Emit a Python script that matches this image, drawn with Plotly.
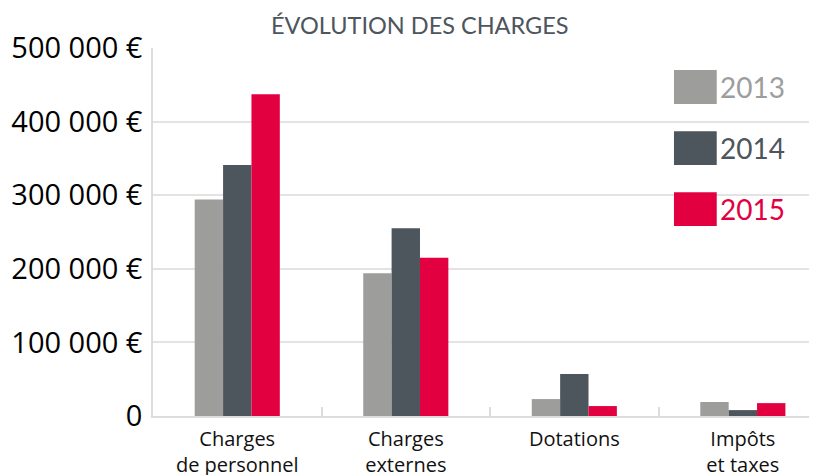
import plotly.graph_objects as go

categories = ["Charges<br>de personnel", "Charges<br>externes", "Dotations", "Impôts<br>et taxes"]
years = ["2013", "2014", "2015"]
colors = ["#9d9d9c", "#4d555d", "#e30040"]
values_2013 = [294000, 194000, 23000, 19000]
values_2014 = [341000, 255000, 57000, 8000]
values_2015 = [437000, 215000, 13500, 17500]
series = [values_2013, values_2014, values_2015]
y_ticks = [0, 100000, 200000, 300000, 400000, 500000]
y_ticktext = ["0", "100 000 €", "200 000 €", "300 000 €", "400 000 €", "500 000 €"]

fig = go.Figure()
for name, vals, col in zip(years, series, colors):
    fig.add_trace(go.Bar(x=categories, y=vals, name=name, marker=dict(color=col, line=dict(width=0))))

# custom legend (large squares + text)
leg_x0, leg_x1 = 0.7846, 0.849
leg_top = [0.940, 0.774, 0.608]
sq_h = 0.092
for i, (name, col) in enumerate(zip(years, colors)):
    fig.add_shape(type="rect", xref="paper", yref="paper", x0=leg_x0, x1=leg_x1,
                  y0=leg_top[i] - sq_h, y1=leg_top[i], fillcolor=col, line=dict(width=0), layer="above")
    fig.add_annotation(xref="paper", yref="paper", x=leg_x1 + 0.002, y=leg_top[i] - sq_h / 2,
                       xanchor="left", yanchor="middle", text=name, showarrow=False,
                       font=dict(family="Lato", size=28, color=col))

# the page body has an 8px default margin, so the figure is sized to fit the window
fig.update_layout(
    width=809, height=467,
    margin=dict(l=145, r=0, t=40, b=59),
    paper_bgcolor="white", plot_bgcolor="white",
    barmode="group", bargap=0.495, bargroupgap=0,
    showlegend=False,
    title=dict(text="ÉVOLUTION DES CHARGES", x=0.509, xanchor="center", y=0.963, yanchor="middle",
               font=dict(family="Lato", size=23.5, color="#4d555d")),
    xaxis=dict(type="category", range=[-0.5, 3.44], showgrid=False, automargin=False,
               showline=True, linecolor="#dcdcdc", linewidth=1.5,
               ticks="inside", tickson="boundaries", ticklen=9, tickcolor="#dcdcdc", tickwidth=1.5,
               ticklabelstandoff=4,
               tickfont=dict(family="Open Sans", size=20, color="#111111")),
    yaxis=dict(range=[0, 500000], tickvals=y_ticks, ticktext=y_ticktext, automargin=False,
               showgrid=True, gridcolor="#e3e3e3", gridwidth=1.5,
               showline=True, linecolor="#dcdcdc", linewidth=1.5, zeroline=False,
               ticks="", ticklabelstandoff=3,
               tickfont=dict(family="Open Sans", size=29, color="#000000")),
)

fig.write_html("out.html")
